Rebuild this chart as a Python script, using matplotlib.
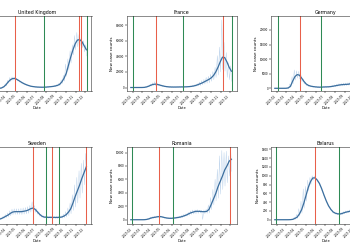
import matplotlib
matplotlib.use("Agg")
import matplotlib.pyplot as plt
import matplotlib.dates as mdates
import pandas as pd

# weekly sample dates (smoothed curve) shared by all countries
weeks = pd.date_range("2020-01-25", periods=46, freq="7D")

countries = ["United Kingdom", "France", "Germany", "Sweden", "Romania", "Belarus"]

# smoothed new cases, one value per week
uk_smooth = [0, 0, 0, 0, 0, 0, 50, 250, 800, 1800, 3200, 4300, 4900, 4900, 4400, 3700,
             3000, 2400, 1900, 1500, 1150, 950, 800, 700, 650, 620, 620, 680, 780, 880,
             1000, 1200, 1500, 2000, 3200, 5000, 7500, 11500, 15500, 19000, 22000, 23800,
             24000, 23000, 21000, 19000]
fr_smooth = [0, 0, 0, 0, 0, 20, 150, 700, 1700, 3000, 4000, 4300, 3900, 3100, 2300, 1600,
             1100, 800, 650, 600, 600, 650, 700, 750, 800, 900, 1100, 1400, 1900, 2600,
             3600, 4800, 6000, 7500, 9000, 10500, 12500, 15500, 20000, 26000, 33000, 39000,
             38500, 33000, 26000, 21000]
de_smooth = [0, 0, 0, 0, 0, 10, 100, 700, 2500, 4000, 4700, 4500, 3500, 2400, 1500, 1000,
             750, 600, 500, 420, 380, 400, 450, 480, 500, 580, 700, 850, 1000, 1150,
             1250, 1300, 1350, 1400, 1600, 1900, 2400, 3500, 5500, 9000, 14000, 17500,
             18500, 18000, 18000, 19500]
se_smooth = [0, 0, 0, 0, 0, 2, 20, 120, 250, 400, 550, 750, 900, 950, 950, 950,
             950, 1000, 1050, 1150, 1300, 1380, 1250, 950, 650, 420, 300, 270, 260, 260,
             260, 250, 250, 260, 300, 420, 600, 900, 1300, 2000, 2800, 3500,
             4200, 5000, 5700, 6400]
ro_smooth = [0, 0, 0, 0, 0, 0, 5, 40, 120, 250, 330, 380, 450, 480, 420, 330,
             260, 220, 210, 230, 280, 330, 390, 480, 600, 720, 900, 1050, 1150, 1250,
             1250, 1250, 1200, 1200, 1250, 1550, 2300, 3100, 3900, 4900, 5700, 6500,
             7400, 8000, 8700, 9000]
by_smooth = [0, 0, 0, 0, 0, 0, 0, 2, 8, 30, 60, 130, 230, 380, 560, 740,
             870, 950, 950, 900, 820, 700, 560, 430, 320, 240, 180, 150, 135, 130,
             140, 160, 175, 185, 200, 240, 300, 400, 550, 700, 850, 1000,
             1100, 1200, 1350, 1500]

# raw daily counts, read as a high and a low value per week
uk_hi = [0, 0, 0, 0, 0, 0, 80, 400, 1100, 2400, 4000, 5400, 5700, 5600, 5000, 4200,
         3400, 2700, 2200, 1700, 1300, 1100, 950, 800, 750, 720, 720, 800, 900, 1050,
         1200, 1450, 1900, 2700, 4200, 6500, 12000, 14500, 18500, 21500, 26000, 27500,
         26500, 25500, 23500, 21500]
uk_lo = [0, 0, 0, 0, 0, 0, 20, 150, 600, 1300, 2600, 3400, 4000, 4100, 3700, 3100,
         2500, 2000, 1600, 1250, 950, 800, 650, 600, 550, 520, 520, 570, 650, 720,
         800, 950, 1150, 1400, 2400, 3600, 6000, 9000, 12500, 16500, 19000, 20500,
         21000, 20000, 18000, 16000]
fr_hi = [0, 0, 0, 0, 0, 50, 300, 1100, 2500, 4500, 6000, 7500, 5500, 4200, 3200, 2300,
         1600, 1200, 1000, 900, 900, 950, 1000, 1100, 1200, 1300, 1600, 2000, 2700, 3700,
         5000, 7000, 8900, 10500, 13000, 14500, 17000, 20500, 26000, 41000, 52000, 87000,
         58000, 45000, 32000, 28000]
fr_lo = [0, 0, 0, 0, 0, 0, 60, 400, 1100, 1800, 2500, 2200, 2300, 1800, 1200, 800,
         500, 300, 200, 300, 300, 350, 400, 400, 450, 500, 600, 800, 1100, 1500,
         2000, 2500, 3500, 4500, 5500, 6000, 8000, 10000, 13000, 16000, 20000, 23000,
         21000, 13000, 10000, 8000]
de_hi = [0, 0, 0, 0, 0, 20, 250, 1500, 4000, 6300, 6000, 5800, 4500, 3200, 2000, 1400,
         1000, 800, 700, 600, 550, 600, 650, 700, 700, 800, 1000, 1200, 1400, 1600,
         1700, 1800, 1800, 1900, 2200, 2600, 3300, 5000, 8000, 12000, 19000, 23500,
         23000, 22500, 23000, 24000]
de_lo = [0, 0, 0, 0, 0, 0, 50, 300, 1500, 2800, 3500, 3200, 2300, 1500, 900, 600,
         450, 350, 300, 250, 200, 250, 300, 300, 350, 400, 450, 550, 650, 700,
         800, 900, 900, 1000, 1100, 1300, 1600, 2200, 3500, 5500, 9000, 12000,
         13000, 12500, 13000, 14000]
se_hi = [0, 0, 0, 0, 0, 5, 50, 200, 380, 600, 800, 1050, 1250, 1300, 1300, 1300,
         1350, 1400, 1450, 1550, 1700, 2150, 1700, 1300, 950, 600, 450, 400, 380, 380,
         380, 360, 380, 400, 450, 650, 950, 1400, 2000, 3000, 4200, 5100,
         5900, 6800, 7200, 8000]
se_lo = [0, 0, 0, 0, 0, 0, 0, 50, 130, 220, 320, 450, 580, 620, 620, 620,
         600, 650, 680, 750, 900, 1000, 850, 650, 400, 250, 170, 150, 140, 140,
         140, 130, 130, 140, 160, 220, 300, 450, 700, 1100, 1500, 2000,
         2600, 3200, 4200, 5000]
ro_hi = [0, 0, 0, 0, 0, 0, 10, 80, 200, 380, 450, 520, 560, 600, 530, 420,
         330, 290, 280, 320, 380, 450, 520, 650, 800, 900, 1100, 1300, 1450, 1450,
         1500, 1400, 1400, 1450, 1550, 2200, 3300, 4500, 6000, 7500, 9500, 10300,
         10000, 10200, 9500, 10100]
ro_lo = [0, 0, 0, 0, 0, 0, 0, 10, 50, 150, 200, 250, 300, 350, 300, 230,
         180, 150, 140, 150, 180, 220, 260, 320, 420, 540, 650, 800, 850, 900,
         950, 1000, 50, 900, 950, 1000, 1500, 2200, 2800, 3200, 3800, 4500,
         5000, 5500, 6500, 7200]
by_hi = [0, 0, 0, 0, 0, 0, 0, 5, 20, 60, 120, 250, 420, 700, 760, 900,
         960, 1000, 990, 940, 860, 740, 600, 470, 350, 270, 210, 175, 160, 155,
         165, 185, 200, 210, 230, 280, 350, 460, 620, 780, 950, 1100,
         1200, 1300, 1450, 1570]
by_lo = [0, 0, 0, 0, 0, 0, 0, 0, 2, 10, 30, 80, 150, 260, 420, 650,
         800, 900, 920, 860, 780, 660, 520, 400, 290, 210, 150, 125, 110, 105,
         115, 135, 150, 160, 170, 210, 260, 350, 480, 620, 760, 900,
         1000, 1100, 1250, 1400]

# measure start (red) / end (green) dates
uk_red = ["2020-04-25", "2020-11-12", "2020-11-19"]
uk_green = ["2020-07-26", "2020-12-07"]
fr_red = ["2020-04-12", "2020-11-10"]
fr_green = ["2020-02-01", "2020-07-07", "2020-12-06"]
de_red = ["2020-04-13"]
de_green = ["2020-02-04", "2020-06-18"]
se_red = ["2020-06-22", "2020-08-20", "2020-12-04"]
se_green = ["2020-07-31", "2020-09-11"]
ro_red = ["2020-04-23", "2020-12-01"]
ro_green = ["2020-01-28", "2020-06-06"]
by_red = ["2020-05-31"]
by_green = ["2020-01-29", "2020-08-14"]

smooth = [uk_smooth, fr_smooth, de_smooth, se_smooth, ro_smooth, by_smooth]
highs = [uk_hi, fr_hi, de_hi, se_hi, ro_hi, by_hi]
lows = [uk_lo, fr_lo, de_lo, se_lo, ro_lo, by_lo]
reds = [uk_red, fr_red, de_red, se_red, ro_red, by_red]
greens = [uk_green, fr_green, de_green, se_green, ro_green, by_green]
ylims = [(-1240, 35600), (-4500, 92000), (-930, 24800),
         (-545, 8780), (-635, 10820), (-97, 1653)]

# axes boxes in pixels: left, top, width, height (figure is 350x250)
boxes = [(-18, 16, 109.5, 75), (127, 16, 109.5, 75), (271, 16, 109.5, 75),
         (-18, 147, 109.5, 77), (127, 147, 109.5, 77), (271, 147, 109.5, 77)]

plt.rcParams.update({
    "axes.linewidth": 0.4,
    "axes.edgecolor": "#333333",
    "xtick.major.size": 1.2,
    "ytick.major.size": 1.2,
    "xtick.major.width": 0.35,
    "ytick.major.width": 0.35,
    "xtick.major.pad": 0.8,
    "ytick.major.pad": 0.8,
    "xtick.labelsize": 2.1,
    "ytick.labelsize": 2.0,
})

fig = plt.figure(figsize=(3.5, 2.5), dpi=100)

for k, name in enumerate(countries):
    l, t, w, h = boxes[k]
    ax = fig.add_axes([l / 350, (250 - t - h) / 250, w / 350, h / 250])

    raw_x, raw_y = [], []
    for d, hi, lo in zip(weeks, highs[k], lows[k]):
        raw_x += [d - pd.Timedelta(days=2), d + pd.Timedelta(days=1)]
        raw_y += [hi, lo]

    ax.plot(raw_x, raw_y, color="#b8d0ea", lw=0.3)
    ax.plot(weeks, smooth[k], color="#3b6e9e", lw=0.9)
    for d in reds[k]:
        ax.axvline(pd.Timestamp(d), color="#e8604a", lw=0.75)
    for d in greens[k]:
        ax.axvline(pd.Timestamp(d), color="#2e8a55", lw=0.75)

    ax.set_xlim(pd.Timestamp("2020-01-13"), pd.Timestamp("2020-12-21"))
    ax.set_ylim(*ylims[k])
    ax.xaxis.set_major_locator(mdates.MonthLocator())
    ax.xaxis.set_major_formatter(mdates.DateFormatter("%Y-%m"))
    for lab in ax.get_xticklabels():
        lab.set_rotation(45)
        lab.set_ha("right")

    ax.set_title(name, fontsize=3.4, pad=1.5)
    ax.set_xlabel("Date", fontsize=2.6, labelpad=0.8)
    ax.set_ylabel("New case counts", fontsize=3.0, labelpad=1.2)

fig.savefig("out.png", dpi=100)
